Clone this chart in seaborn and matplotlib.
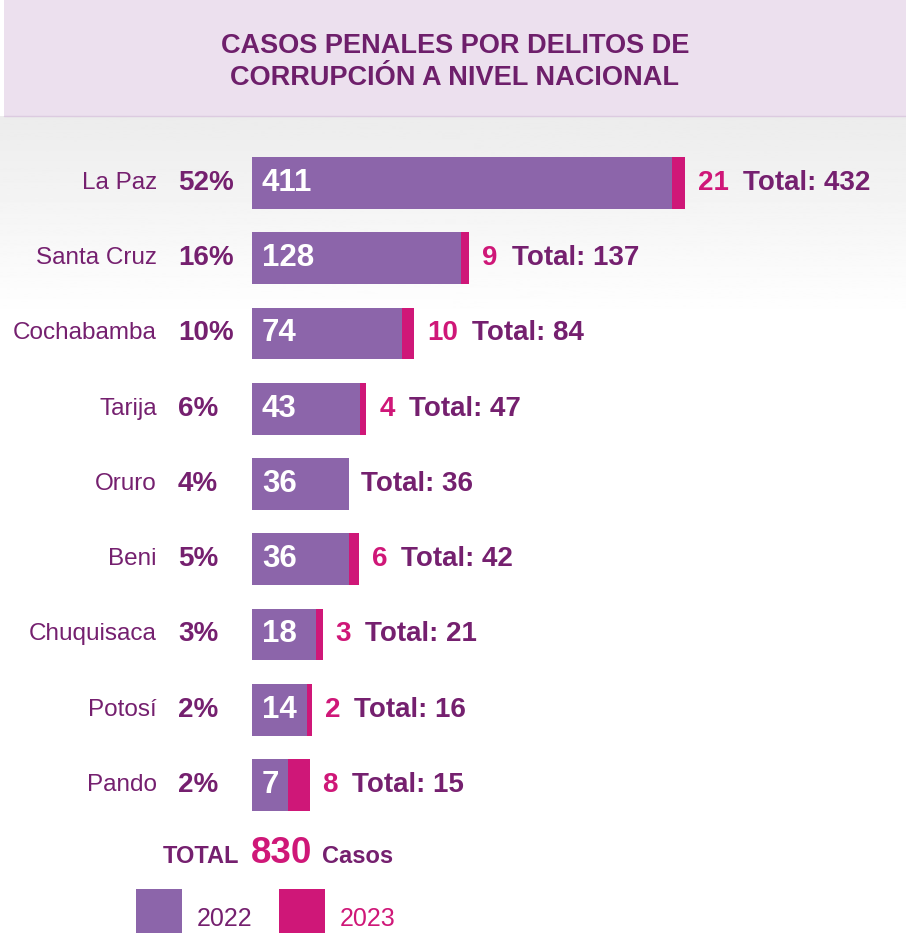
import numpy as np
import pandas as pd
import matplotlib
matplotlib.use("Agg")
import matplotlib.pyplot as plt
from matplotlib import transforms
from matplotlib.patches import Rectangle
import seaborn as sns

# ------------------------------
# Data
# ------------------------------
departamentos = ["La Paz", "Santa Cruz", "Cochabamba", "Tarija", "Oruro",
                 "Beni", "Chuquisaca", "Potosí", "Pando"]
porcentajes = ["52%", "16%", "10%", "6%", "4%", "5%", "3%", "2%", "2%"]
casos_2022 = [411, 128, 74, 43, 36, 36, 18, 14, 7]
casos_2023 = [21, 9, 10, 4, 0, 6, 3, 2, 8]
total_casos = 830
anios = ["2022", "2023"]
titulo = "CASOS PENALES POR DELITOS DE\nCORRUPCIÓN A NIVEL NACIONAL"

PURPLE = "#8c65aa"
PINK = "#cf1778"
DARK = "#75206f"

df = pd.DataFrame({"dep": departamentos, "y2022": casos_2022, "y2023": casos_2023})
df["total"] = df["y2022"] + df["y2023"]

sns.set_theme(style="white")
plt.rcParams["font.family"] = ["Liberation Sans", "DejaVu Sans"]

W, H = 906, 933
fig = plt.figure(figsize=(W / 100, H / 100), dpi=100)

# ------------------------------
# Background: title band + soft gray gradient
# ------------------------------
bg = fig.add_axes([0, 0, 1, 1], zorder=-10)
bg.set_xlim(0, 1)
bg.set_ylim(0, 1)
bg.axis("off")
band_bottom = 1 - 116 / H
grad = np.linspace(1.0, 0.925, 200).reshape(-1, 1)
bg.imshow(grad, cmap="gray", vmin=0, vmax=1, aspect="auto",
          extent=[0, 1, 1 - 320 / H, band_bottom], origin="lower")
bg.add_patch(Rectangle((4 / W, band_bottom), 1, 1 - band_bottom, color="#ece0ee", lw=0))
bg.plot([4 / W, 1], [band_bottom, band_bottom], color="#dccbe0", lw=1)
bg.text(455 / W, 1 - 62 / H, titulo, ha="center", va="center", fontsize=19.5,
        fontweight="bold", color="#6e1f6b", linespacing=1.3)

# ------------------------------
# Bars (power scale keeps small provinces readable)
# ------------------------------
ax = fig.add_axes([252 / W, 0.1183, 1 - 252 / W, 0.8442 - 0.1183])
sns.barplot(data=df, x="total", y="dep", color=PINK, width=0.69, saturation=1,
            errorbar=None, orient="h", linewidth=0, ax=ax)
sns.barplot(data=df, x="y2022", y="dep", color=PURPLE, width=0.69, saturation=1,
            errorbar=None, orient="h", linewidth=0, ax=ax)

p = 0.6
ax.set_xscale("function", functions=(lambda x: np.sign(x) * np.abs(x) ** p,
                                     lambda x: np.sign(x) * np.abs(x) ** (1 / p)))
ax.set_xlim(0, 860)
ax.set_ylim(8.5, -0.5)
ax.axis("off")

trans = transforms.blended_transform_factory(fig.transFigure, ax.transData)
for i, row in df.iterrows():
    ax.text(157 / W, i, row["dep"], transform=trans, ha="right", va="center",
            fontsize=17.5, color=DARK, clip_on=False)
    ax.text(178 / W, i, porcentajes[i], transform=trans, ha="left", va="center",
            fontsize=20, fontweight="bold", color=DARK, clip_on=False)
    ax.annotate(str(row["y2022"]), xy=(0, i), xytext=(10, 0), textcoords="offset pixels",
                ha="left", va="center", fontsize=22.5, fontweight="bold", color="white")
    if row["y2023"] > 0:
        t = ax.annotate(str(row["y2023"]), xy=(row["total"], i), xytext=(13, 0),
                        textcoords="offset pixels", ha="left", va="center",
                        fontsize=20, fontweight="bold", color=PINK)
        ax.annotate(f"Total: {row['total']}", xy=(1, 0.5), xycoords=t, xytext=(14, 0),
                    textcoords="offset pixels", ha="left", va="center",
                    fontsize=20, fontweight="bold", color=DARK)
    else:
        ax.annotate(f"Total: {row['total']}", xy=(row["total"], i), xytext=(12, 0),
                    textcoords="offset pixels", ha="left", va="center",
                    fontsize=20, fontweight="bold", color=DARK)

# ------------------------------
# Grand total line
# ------------------------------
y_base = 1 - 863 / H
t1 = fig.text(163 / W, y_base, "TOTAL", ha="left", va="baseline",
              fontsize=17, fontweight="bold", color=DARK)
t2 = bg.annotate(str(total_casos), xy=(1, y_base), xycoords=(t1, "figure fraction"),
                 xytext=(11, 0), textcoords="offset pixels", ha="left", va="baseline",
                 fontsize=26.5, fontweight="bold", color=PINK)
bg.annotate("Casos", xy=(1, y_base), xycoords=(t2, "figure fraction"),
            xytext=(10, 0), textcoords="offset pixels", ha="left", va="baseline",
            fontsize=17, fontweight="bold", color=DARK)

# ------------------------------
# Legend
# ------------------------------
for x0, col, txt_col, label in [(136, PURPLE, DARK, anios[0]), (279, PINK, PINK, anios[1])]:
    bg.add_patch(Rectangle((x0 / W, 0), 46 / W, 44 / H, color=col, lw=0))
    bg.text((x0 + 61) / W, 7 / H, label, ha="left", va="baseline",
            fontsize=18, color=txt_col)

fig.savefig("out.png", dpi=100)
